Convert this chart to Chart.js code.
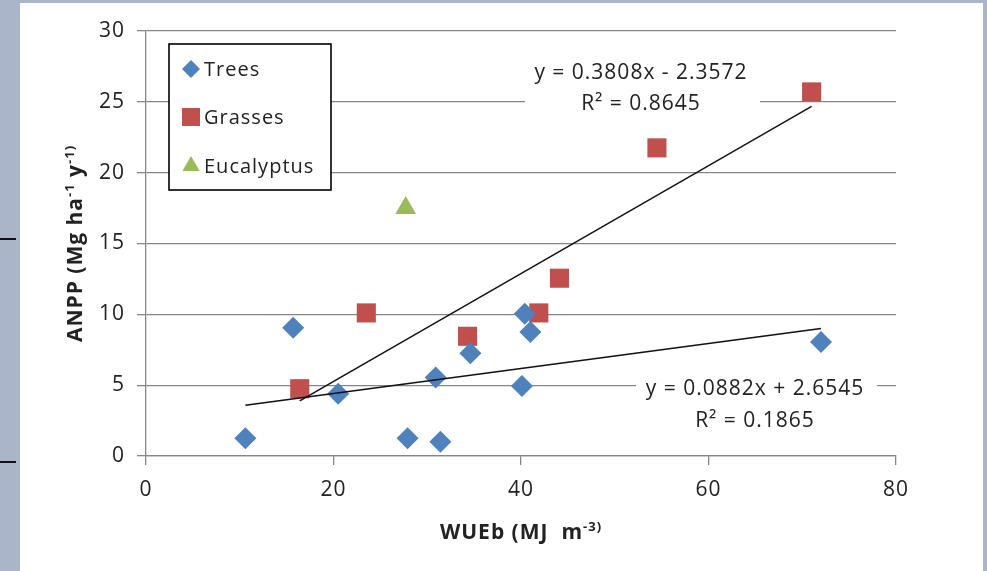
<!DOCTYPE html>
<html><head><meta charset="utf-8">
<script src="https://cdn.jsdelivr.net/npm/chart.js@4/dist/chart.umd.min.js"></script>
<style>
html,body{margin:0;padding:0;}
body{width:987px;height:571px;background:#aab5c9;position:relative;overflow:hidden;}
#panel{position:absolute;left:20px;top:3px;width:963px;height:568px;background:#fff;}
.mark{position:absolute;left:0;width:16px;height:2px;background:#111;}
canvas{position:absolute;left:0;top:0;}
</style></head>
<body>
<div id="panel"></div>
<div class="mark" style="top:238px"></div>
<div class="mark" style="top:461px"></div>
<canvas id="c" width="987" height="571"></canvas>
<script>
// ---- data ----
const seriesNames = ['Trees', 'Grasses', 'Eucalyptus'];
const treesX = [10.6, 15.7, 20.5, 27.9, 31.4, 30.9, 34.6, 40.1, 40.4, 41.0, 72.0];
const treesY = [1.25, 9.05, 4.4, 1.25, 1.0, 5.55, 7.25, 4.95, 10.05, 8.75, 8.05];
const grassesX = [16.4, 23.5, 34.3, 41.9, 44.1, 54.5, 71.0];
const grassesY = [4.75, 10.1, 8.45, 10.1, 12.55, 21.75, 25.7];
const eucX = [27.7];
const eucY = [17.5];
// trendline coefficients (as printed on the chart)
const trendSlope = [0.0882, 0.3808];
const trendIntercept = [2.6545, -2.3572];
const trendText = [['y = 0.0882x + 2.6545', 'R\u00B2 = 0.1865'], ['y = 0.3808x - 2.3572', 'R\u00B2 = 0.8645']];
const xTicks = [0, 20, 40, 60, 80];
const yTicks = [0, 5, 10, 15, 20, 25, 30];

const colors = ['#4f81bd', '#c0504d', '#9bbb59'];
const styles = ['rectRot', 'rect', 'triangle'];
const FONT = '"Open Sans", sans-serif';
const TXT = '#222';

const zip = (xs, ys) => xs.map((x, i) => ({x, y: ys[i]}));
function trend(xs, k) {
  const lo = Math.min(...xs), hi = Math.max(...xs);
  return [{x: lo, y: trendSlope[k] * lo + trendIntercept[k]}, {x: hi, y: trendSlope[k] * hi + trendIntercept[k]}];
}

function rich(ctx, parts, x, y, size, bold) {
  const f = (s) => (bold ? 'bold ' : '') + s + 'px ' + FONT;
  let total = 0;
  parts.forEach(p => { ctx.font = f(p[1] ? size * 0.62 : size); total += ctx.measureText(p[0]).width; });
  let cx = x - total / 2;
  parts.forEach(p => {
    ctx.font = f(p[1] ? size * 0.62 : size);
    ctx.fillText(p[0], cx, p[1] ? y - size * 0.36 : y);
    cx += ctx.measureText(p[0]).width;
  });
}

function marker(ctx, style, x, y, r, color) {
  ctx.fillStyle = color; ctx.beginPath();
  if (style === 'rectRot') { ctx.moveTo(x, y - r); ctx.lineTo(x + r, y); ctx.lineTo(x, y + r); ctx.lineTo(x - r, y); }
  else if (style === 'rect') { const h = r * Math.SQRT1_2; ctx.rect(x - h, y - h, 2 * h, 2 * h); }
  else { const a = 2 * Math.PI / 3; ctx.moveTo(x, y - r); ctx.lineTo(x + r * Math.sin(a), y - r * Math.cos(a)); ctx.lineTo(x - r * Math.sin(a), y - r * Math.cos(a)); }
  ctx.closePath(); ctx.fill();
}

const decor = {
  id: 'decor',
  beforeDraw(chart) { chart.ctx.letterSpacing = '1px'; },
  beforeDatasetsDraw(chart) {
    const ctx = chart.ctx, a = chart.chartArea;
    ctx.save();
    ctx.letterSpacing = '1px';
    ctx.textBaseline = 'alphabetic';
    // equation label boxes (white background) + text
    const boxes = [
      {l: a.left + 490, t: a.top + 339, w: 241, h: 66, cx: a.left + 609, b1: a.top + 364, b2: a.top + 396},
      {l: a.left + 379, t: a.top + 24, w: 235, h: 63, cx: a.left + 495, b1: a.top + 48, b2: a.top + 79}
    ];
    boxes.forEach((b, k) => {
      ctx.fillStyle = '#fff';
      ctx.fillRect(b.l, b.t, b.w, b.h);
      ctx.fillStyle = TXT;
      ctx.font = '21px ' + FONT;
      ctx.textAlign = 'center';
      ctx.fillText(trendText[k][0], b.cx, b.b1);
      ctx.fillText(trendText[k][1], b.cx, b.b2);
    });
    ctx.restore();
  },
  afterDraw(chart) {
    const ctx = chart.ctx, a = chart.chartArea;
    ctx.save();
    ctx.letterSpacing = '1px';
    ctx.textBaseline = 'alphabetic';
    ctx.textAlign = 'left';
    // legend
    const L = a.left + 23, T = a.top + 13;
    ctx.fillStyle = '#fff';
    ctx.fillRect(L, T, 162, 146);
    ctx.strokeStyle = '#000'; ctx.lineWidth = 1.6;
    ctx.strokeRect(L, T, 162, 146);
    const rows = [25, 73, 122];
    const rad = [9, 12.7, 10];
    seriesNames.forEach((n, i) => {
      marker(ctx, styles[i], L + 22, T + rows[i], rad[i], colors[i]);
      ctx.fillStyle = TXT;
      ctx.font = '20px ' + FONT;
      ctx.fillText(n, L + 35, T + rows[i] + 7);
    });
    // axis titles
    ctx.fillStyle = TXT;
    rich(ctx, [['WUEb (MJ  m', false], ['-3)', true]], (a.left + a.right) / 2, 539, 21, true);
    ctx.translate(82, (a.top + a.bottom) / 2);
    ctx.rotate(-Math.PI / 2);
    rich(ctx, [['ANPP (Mg ha', false], ['-1', true], [' y', false], ['-1)', true]], 0, 0, 21, true);
    ctx.restore();
  }
};

const tickFont = {family: FONT, size: 21};
new Chart(document.getElementById('c'), {
  type: 'scatter',
  data: {
    datasets: [
      {label: 'Trees trend', data: trend(treesX, 0), showLine: true, borderColor: '#111', borderWidth: 1.5, pointRadius: 0, order: 0},
      {label: 'Grasses trend', data: trend(grassesX, 1), showLine: true, borderColor: '#111', borderWidth: 1.5, pointRadius: 0, order: 0},
      {label: seriesNames[0], data: zip(treesX, treesY), pointStyle: styles[0], pointRadius: 11, backgroundColor: colors[0], borderWidth: 0, order: 1},
      {label: seriesNames[1], data: zip(grassesX, grassesY), pointStyle: styles[1], pointRadius: 13.5, backgroundColor: colors[1], borderWidth: 0, order: 1},
      {label: seriesNames[2], data: zip(eucX, eucY), pointStyle: styles[2], pointRadius: 12, backgroundColor: colors[2], borderWidth: 0, order: 1}
    ]
  },
  options: {
    responsive: false, animation: false, devicePixelRatio: 1, events: [],
    layout: {padding: {left: 20, top: 31, right: 91, bottom: 0}},
    plugins: {legend: {display: false}, tooltip: {enabled: false}},
    scales: {
      x: {
        type: 'linear', min: 0, max: 80,
        afterBuildTicks(s) { s.ticks = xTicks.map(v => ({value: v})); },
        ticks: {font: tickFont, color: TXT, padding: 12, maxRotation: 0},
        grid: {drawOnChartArea: false, drawTicks: true, tickLength: 9, color: '#868686', lineWidth: 1.3},
        border: {color: '#868686', width: 1.3},
        afterFit(s) { s.height = 115; }
      },
      y: {
        type: 'linear', min: 0, max: 30,
        afterBuildTicks(s) { s.ticks = yTicks.map(v => ({value: v})); },
        ticks: {font: tickFont, color: TXT, padding: 12},
        grid: {color: '#868686', tickLength: 9, lineWidth: 1.3},
        border: {color: '#868686', width: 1.3},
        afterFit(s) { s.width = 126; }
      }
    }
  },
  plugins: [decor]
});
</script>
</body></html>
